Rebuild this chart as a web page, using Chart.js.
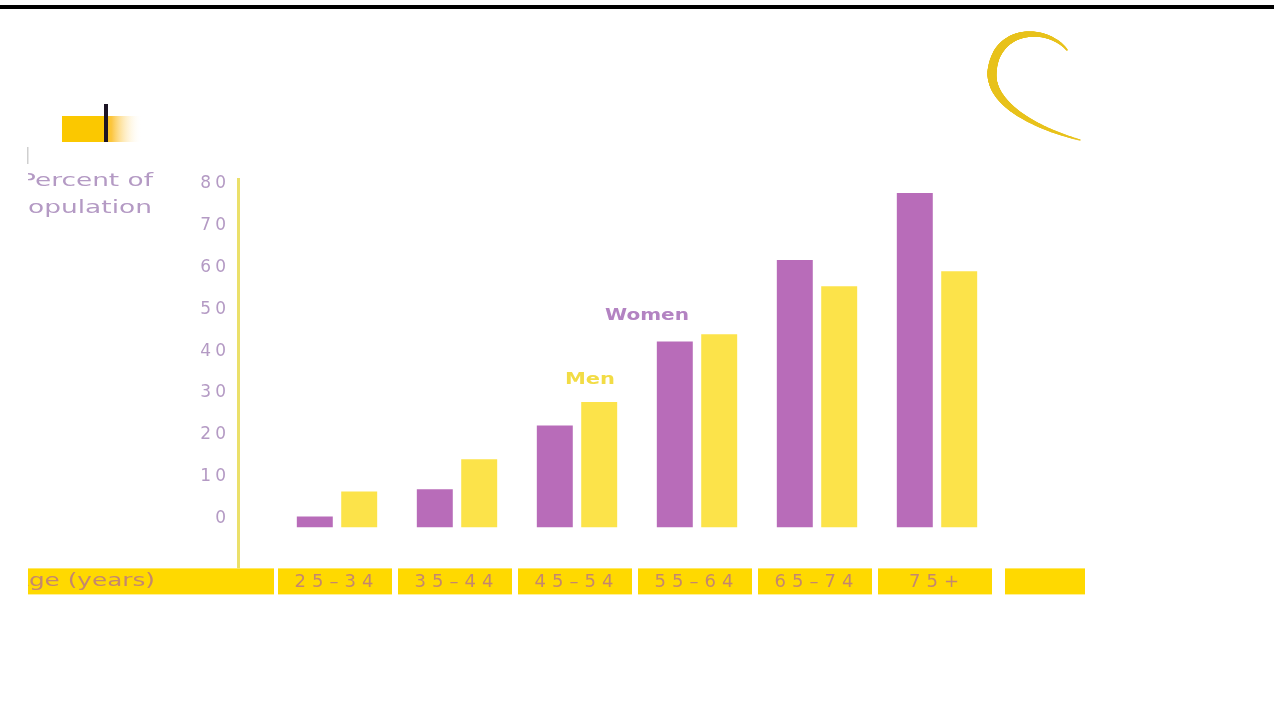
<!DOCTYPE html>
<html>
<head>
<meta charset="utf-8">
<script src="https://cdn.jsdelivr.net/npm/chart.js@4"></script>
<style>
  html, body { margin: 0; padding: 0; background: #fff; overflow: hidden; }
  canvas { display: block; }
</style>
</head>
<body>
<canvas id="chart" width="1274" height="701"></canvas>
<script>
// data (percent of population)
const ageGroups = ['25–34', '35–44', '45–54', '55–64', '65–74', '75+'];
const women = [2.6, 9.1, 24.4, 44.5, 64, 80];
const men = [8.6, 16.3, 30, 46.2, 57.7, 61.3];
const yTicks = [0, 10, 20, 30, 40, 50, 60, 70, 80];

const PURPLE = '#b86cb9';
const YELLOW = '#fce34a';
const BAND = '#ffd900';
const LABEL_TEXT = '#c4876e';
const TICK_TEXT = '#b49ac4';

// draws text stretched to a given width (the scan is stretched sideways)
function stretchText(ctx, text, x, y, width, font, color) {
  ctx.save();
  ctx.font = font;
  ctx.fillStyle = color;
  ctx.textBaseline = 'middle';
  ctx.textAlign = 'left';
  const w = ctx.measureText(text).width;
  ctx.translate(x, y);
  ctx.scale(width / w, 1);
  ctx.fillText(text, 0, 0);
  ctx.restore();
}

function bez(p0, p1, p2, p3, t) {
  const u = 1 - t;
  return u * u * u * p0 + 3 * u * u * t * p1 + 3 * u * t * t * p2 + t * t * t * p3;
}

// tapered crescent: dots along two bezier pieces
function crescent(ctx) {
  const pieces = [
    [[1067, 50], [1048, 26], [996, 26], [992, 72]],
    [[992, 72], [990, 104], [1035, 128], [1080, 140]]
  ];
  const widths = [0.8, 3, 4.6, 2.6, 0.7];
  ctx.fillStyle = '#e8c21c';
  for (let s = 0; s <= 2; s += 0.005) {
    const k = Math.min(Math.floor(s), 1);
    const t = s - k;
    const p = pieces[k];
    const px = bez(p[0][0], p[1][0], p[2][0], p[3][0], t);
    const py = bez(p[0][1], p[1][1], p[2][1], p[3][1], t);
    const f = s * 2;
    const i = Math.min(Math.floor(f), 3);
    const r = widths[i] + (widths[i + 1] - widths[i]) * (f - i);
    ctx.beginPath();
    ctx.arc(px, py, r, 0, Math.PI * 2);
    ctx.fill();
  }
}

const decor = {
  id: 'decor',
  beforeDraw(chart) {
    const ctx = chart.ctx;
    const x = chart.scales.x;
    const area = chart.chartArea;
    ctx.save();
    ctx.letterSpacing = '0px';
    ctx.fillStyle = '#fff';
    ctx.fillRect(0, 0, chart.width, chart.height);

    // black rule along the top
    ctx.fillStyle = '#000';
    ctx.fillRect(0, 5, chart.width, 4);

    // little yellow tab with black stroke
    const g = ctx.createLinearGradient(62, 0, 142, 0);
    g.addColorStop(0, '#fbc800');
    g.addColorStop(0.5, '#fbc800');
    g.addColorStop(0.62, '#fcc640');
    g.addColorStop(1, 'rgba(255,255,255,0)');
    ctx.fillStyle = g;
    ctx.fillRect(62, 116, 80, 26);
    ctx.fillStyle = '#1c1424';
    ctx.fillRect(104, 104, 4, 38);
    ctx.fillStyle = '#cfcfcf';
    ctx.fillRect(27, 147, 1.5, 17);

    crescent(ctx);

    // yellow band behind the age labels
    const step = (x.right - x.left) / ageGroups.length;
    const bandTop = x.top + 41;
    const bandH = 26;
    ctx.fillStyle = BAND;
    ageGroups.forEach((grp, i) => {
      const c = x.getPixelForValue(i);
      ctx.fillRect(c - step / 2 + 1, bandTop, step - 6, bandH);
    });
    ctx.fillRect(x.right + 8, bandTop, 80, bandH);
    ctx.fillRect(28, bandTop, x.left - 3 - 28, bandH);

    // yellow vertical axis line
    ctx.fillStyle = '#ebe06a';
    ctx.fillRect(area.left - 40, 178, 3, bandTop - 178);

    // texts cut off at the left edge of the scan
    ctx.beginPath();
    ctx.rect(28, 0, chart.width, chart.height);
    ctx.clip();
    stretchText(ctx, 'Age (years)', 12, bandTop + 13, 143, '17px "DejaVu Sans"', LABEL_TEXT);
    stretchText(ctx, 'Percent of', 20, 182, 133, '17px "DejaVu Sans"', TICK_TEXT);
    stretchText(ctx, 'Population', 13, 209, 139, '17px "DejaVu Sans"', TICK_TEXT);
    ctx.restore();

    // spacing for the y tick labels
    ctx.letterSpacing = '4px';
  },
  afterDatasetsDraw(chart) {
    // spacing for the x tick labels (drawn above the bars)
    chart.ctx.letterSpacing = '6px';
  },
  afterDraw(chart) {
    const ctx = chart.ctx;
    ctx.letterSpacing = '0px';
    stretchText(ctx, 'Women', 605, 316, 84, 'bold 16px "DejaVu Sans"', '#b383c2');
    stretchText(ctx, 'Men', 565, 380, 50, 'bold 16px "DejaVu Sans"', '#f2dc45');
  }
};

new Chart(document.getElementById('chart').getContext('2d'), {
  type: 'bar',
  data: {
    labels: ageGroups,
    datasets: [
      {
        label: 'Women',
        data: women,
        backgroundColor: PURPLE,
        borderWidth: 0,
        categoryPercentage: 0.74,
        barPercentage: 0.81
      },
      {
        label: 'Men',
        data: men,
        backgroundColor: YELLOW,
        borderWidth: 0,
        categoryPercentage: 0.74,
        barPercentage: 0.81
      }
    ]
  },
  options: {
    responsive: false,
    animation: false,
    layout: { padding: { top: 193, left: 157, right: 277, bottom: 64 } },
    plugins: {
      legend: { display: false },
      tooltip: { enabled: false }
    },
    scales: {
      x: {
        grid: { display: false, drawTicks: false },
        border: { display: false },
        ticks: {
          z: 1,
          color: LABEL_TEXT,
          font: { family: 'DejaVu Sans', size: 18 },
          padding: 44,
          autoSkip: false,
          maxRotation: 0
        }
      },
      y: {
        min: 0,
        max: 80,
        afterBuildTicks: s => { s.ticks = yTicks.map(v => ({ value: v })); },
        afterFit: s => { s.width = 120; },
        grid: { display: false, drawTicks: false },
        border: { display: false },
        ticks: {
          color: TICK_TEXT,
          font: { family: 'DejaVu Sans', size: 17 },
          padding: 47,
          labelOffset: -9
        }
      }
    }
  },
  plugins: [decor]
});
</script>
</body>
</html>
